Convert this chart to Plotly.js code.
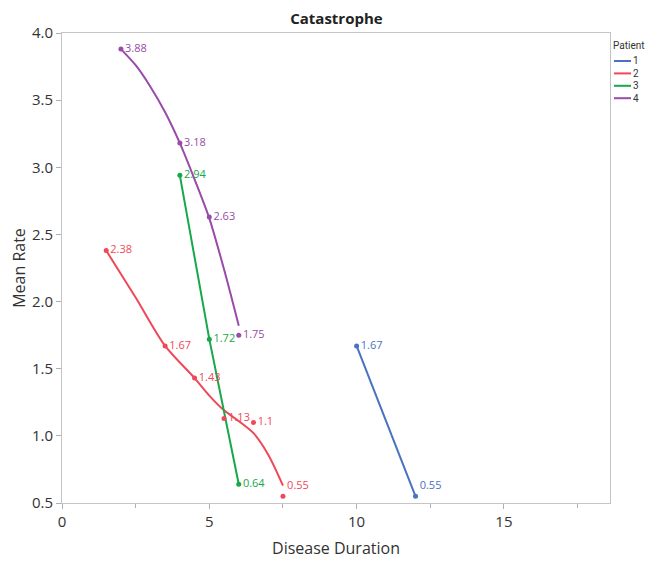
<!DOCTYPE html>
<html>
<head>
<meta charset="utf-8">
<script src="https://cdn.plot.ly/plotly-3.0.1.min.js"></script>
<style>html,body{margin:0;padding:0;background:#fff;}#chart{width:647px;height:563px;}</style>
</head>
<body>
<div id="chart"></div>
<script>
// Data
const patients = ['1', '2', '3', '4'];
const p1Duration = [10, 12];
const p1Rate = [1.67, 0.55];
const p2Duration = [1.5, 3.5, 4.5, 5.5, 6.5, 7.5];
const p2Rate = [2.38, 1.67, 1.43, 1.13, 1.1, 0.55];
const p3Duration = [4, 5, 6];
const p3Rate = [2.94, 1.72, 0.64];
const p4Duration = [2, 4, 5, 6];
const p4Rate = [3.88, 3.18, 2.63, 1.75];
// Smoothed fit curves
const p2FitDuration = [1.5, 2.5, 3.5, 4.5, 5.0, 5.5, 6.0, 6.5, 7.0, 7.5];
const p2FitRate = [2.38, 2.03, 1.67, 1.43, 1.30, 1.19, 1.11, 1.02, 0.86, 0.63];
const p4FitDuration = [2, 2.5, 3, 3.5, 4, 4.5, 5, 5.5, 6];
const p4FitRate = [3.88, 3.76, 3.60, 3.41, 3.18, 2.91, 2.62, 2.24, 1.82];

const colors = ['#4A72C0', '#EF4858', '#16A84B', '#9A4AA8'];
const FONT = 'Open Sans, Noto Sans, sans-serif';

function pointTrace(x, y, c, positions) {
  return {
    x: x, y: y, mode: 'markers+text', type: 'scatter',
    marker: {color: c, size: 5},
    text: y.map(v => String(v)),
    textposition: positions,
    textfont: {family: FONT, size: 11, color: c},
    showlegend: false, cliponaxis: false
  };
}
function lineTrace(x, y, c, shape) {
  return {
    x: x, y: y, mode: 'lines', type: 'scatter', showlegend: false,
    line: {color: c, width: 2, shape: shape, smoothing: 0.8}
  };
}

const traces = [
  lineTrace(p1Duration, p1Rate, colors[0], 'linear'),
  lineTrace(p2FitDuration, p2FitRate, colors[1], 'spline'),
  lineTrace(p3Duration, p3Rate, colors[2], 'linear'),
  lineTrace(p4FitDuration, p4FitRate, colors[3], 'spline'),
  pointTrace(p1Duration, p1Rate, colors[0], ['middle right', 'top right']),
  pointTrace(p2Duration, p2Rate, colors[1], ['middle right','middle right','middle right','middle right','middle right','top right']),
  pointTrace(p3Duration, p3Rate, colors[2], 'middle right'),
  pointTrace(p4Duration, p4Rate, colors[3], 'middle right')
];

// Plot area geometry (pixels) for a compact legend beside it
const W = 647, H = 563, ML = 62, MR = 37, MT = 33, MB = 60;
const PW = W - ML - MR, PH = H - MT - MB;
const px = (p) => (p - ML) / PW;          // pixel x -> paper x
const py = (p) => 1 - (p - MT) / PH;      // pixel y -> paper y

const LFONT = {family: 'Roboto, Noto Sans, sans-serif', size: 10, color: '#333'};
const shapes = [];
const annotations = [{
  xref: 'paper', yref: 'paper', x: px(612), y: py(45), xanchor: 'left', yanchor: 'middle',
  text: 'Patient', showarrow: false, font: LFONT, borderpad: 0
}];
patients.forEach((p, i) => {
  const yy = 61 + i * 12.4;
  shapes.push({type: 'line', xref: 'paper', yref: 'paper', x0: px(614), x1: px(631), y0: py(yy), y1: py(yy),
               line: {color: colors[i], width: 2}});
  annotations.push({xref: 'paper', yref: 'paper', x: px(632), y: py(yy), xanchor: 'left', yanchor: 'middle',
                    text: p, showarrow: false, font: LFONT, borderpad: 0});
});

const axisCommon = {
  showgrid: false, zeroline: false,
  showline: true, mirror: true, linecolor: '#c4c4c4', linewidth: 1,
  ticks: 'outside', ticklen: 5, tickcolor: '#b0b0b0', tickwidth: 1,
  tickfont: {family: FONT, size: 15, color: '#333'}
};

const layout = {
  width: W, height: H,
  margin: {l: ML, r: MR, t: MT, b: MB, autoexpand: false},
  paper_bgcolor: '#fff', plot_bgcolor: '#fff',
  title: {text: '<b>Catastrophe</b>', x: 0.52, xanchor: 'center', y: 1 - 19 / H, yanchor: 'middle',
          font: {family: FONT, size: 15, color: '#222'}},
  xaxis: Object.assign({}, axisCommon, {
    range: [0, 18.6], tickvals: [0, 5, 10, 15],
    minor: {tickvals: [2.5, 7.5, 12.5, 17.5], ticklen: 4, tickcolor: '#b0b0b0', ticks: 'outside'},
    title: {text: 'Disease Duration', standoff: 12, font: {family: FONT, size: 16, color: '#333'}}
  }),
  yaxis: Object.assign({}, axisCommon, {
    range: [0.5, 4.0], dtick: 0.5, tickformat: '.1f',
    title: {text: 'Mean Rate', standoff: 2, font: {family: FONT, size: 16, color: '#333'}}
  }),
  shapes: shapes,
  annotations: annotations,
  showlegend: false
};

Plotly.newPlot('chart', traces, layout, {displayModeBar: false, staticPlot: true});
</script>
</body>
</html>
